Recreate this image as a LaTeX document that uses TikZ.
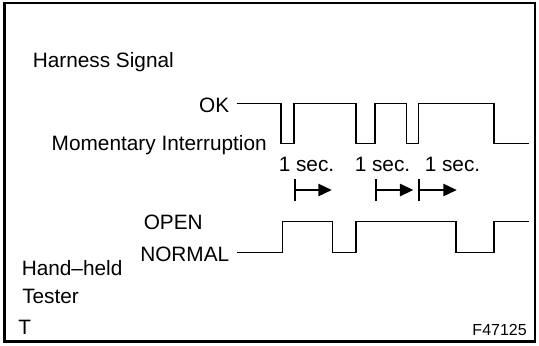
\documentclass[tikz,border=0pt]{standalone}
\usepackage{fontspec}
\setmainfont{Liberation Sans}
\usetikzlibrary{arrows.meta}
\begin{document}
\begin{tikzpicture}[x=0.5pt,y=-0.5pt,line width=0.75pt,
    onesec/.style={{Bar[width=11pt]}-{Triangle[length=6.7pt,width=6.2pt]}},
    every node/.style={inner sep=0pt,font=\fontsize{10.4}{12}\selectfont}]
        \useasboundingbox (0,0) rectangle (539,345);
        \draw [line width=1.2pt] (4.5,3) rectangle (535,341.5);
        \node [anchor=base west] (harness) at (32,67) {Harness Signal};
        \node [anchor=base east] (ok) at (230,112.5) {OK};
        \node [anchor=base east] (momentary) at (267.5,150) {Momentary Interruption};
        \draw (237,103.3) -| (281,143.3) -| (294,103.3) -| (356,143.3) -| (375,103.3) -| (406.7,143.3) -| (418.3,103.3) -| (494,143.3) -- (529.3,143.3);
        \node [anchor=base west] (sec1) at (278,171.7) {1 sec.};
        \node [anchor=base west] (sec2) at (354,171.7) {1 sec.};
        \node [anchor=base west] (sec3) at (424,171.7) {1 sec.};
        \draw [onesec] (294,190) -- (331.7,190);
        \draw [onesec] (375,190) -- (413.3,190);
        \draw [onesec] (418.3,190) -- (456.7,190);
        \node [anchor=base west] (open) at (143,229.3) {OPEN};
        \node [anchor=base east] (normal) at (230,261.7) {NORMAL};
        \draw (237.3,252.3) -| (282.3,221.7) -| (332.3,252.3) -| (356,221.7) -| (456,252.3) -| (494,221.7) -- (529.3,221.7);
        \node [anchor=base west] (handheld) at (21,275) {Hand--held};
        \node [anchor=base west] (tester) at (21.5,303.3) {Tester};
        \node [anchor=base west] (t) at (17.5,334.3) {T};
        \node [anchor=base east,font=\fontsize{8}{9}\selectfont] (fig) at (527.5,335) {F47125};
      \end{tikzpicture}
\end{document}
